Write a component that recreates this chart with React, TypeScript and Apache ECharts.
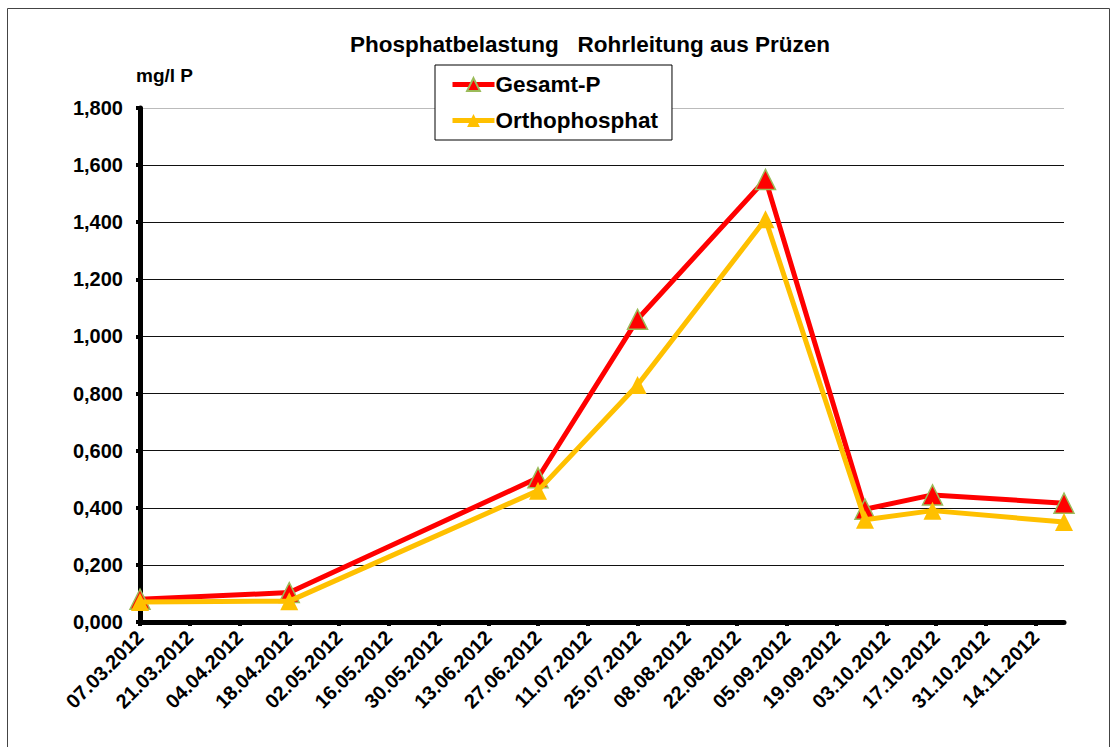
import React, { useEffect, useRef } from "react";
import * as echarts from "echarts";

const sampleDates = ["07.03.2012", "18.04.2012", "27.06.2012", "25.07.2012", "30.08.2012", "27.09.2012", "16.10.2012", "22.11.2012"];
const gesamtP = [0.08, 0.103, 0.505, 1.06, 1.55, 0.395, 0.445, 0.416];
const orthophosphat = [0.07, 0.073, 0.46, 0.83, 1.41, 0.358, 0.39, 0.35];
const seriesNames = ["Gesamt-P", "Orthophosphat"];
const axisStartDate = "07.03.2012";
const axisEndDate = "22.11.2012";
const tickStepDays = 14;
const yTicks = [0, 0.2, 0.4, 0.6, 0.8, 1.0, 1.2, 1.4, 1.6, 1.8];
const titleText = "Phosphatbelastung   Rohrleitung aus Prüzen";
const unitText = "mg/l P";

const parseDate = (s: string) => {
  const [d, m, y] = s.split(".").map(Number);
  return Date.UTC(y, m - 1, d);
};
const DAY = 86400000;
const start = parseDate(axisStartDate);
const toDay = (s: string) => Math.round((parseDate(s) - start) / DAY);
const endDay = toDay(axisEndDate);
const pad = (n: number) => (n < 10 ? "0" + n : "" + n);
const fmtDay = (v: number) => {
  const d = new Date(start + v * DAY);
  return pad(d.getUTCDate()) + "." + pad(d.getUTCMonth() + 1) + "." + d.getUTCFullYear();
};
const xTickValues: number[] = [];
for (let v = 0; v <= endDay; v += tickStepDays) xTickValues.push(v);

const FONT = "'Liberation Sans', Arial, sans-serif";

export default function App() {
  const ref = useRef<HTMLDivElement>(null);
  useEffect(() => {
    document.body.style.margin = "0";
    const chart = echarts.init(ref.current!, null, { renderer: "svg" });
    const days = sampleDates.map(toDay);
    chart.setOption({
      animation: false,
      backgroundColor: "#fff",
      textStyle: { fontFamily: FONT },
      title: {
        text: titleText,
        left: 345,
        top: 28,
        textStyle: { fontFamily: FONT, fontSize: 22.5, fontWeight: "bold", color: "#000" },
      },
      graphic: [
        {
          type: "rect",
          shape: { x: 7.5, y: 8.5, width: 1102, height: 800 },
          style: { fill: "none", stroke: "#444", lineWidth: 1 },
          silent: true,
        },
        {
          type: "text",
          left: 136,
          top: 66,
          style: { text: unitText, font: "bold 19px " + FONT, fill: "#000" },
        },
      ],
      legend: {
        orient: "vertical",
        left: 435,
        top: 65,
        padding: [8, 14, 8, 15],
        itemGap: 13,
        itemWidth: 42,
        itemHeight: 16,
        borderColor: "#000",
        borderWidth: 1,
        backgroundColor: "#fff",
        z: 10,
        lineStyle: { width: 5 },
        textStyle: { fontFamily: FONT, fontSize: 22.5, fontWeight: "bold", color: "#000", padding: [0, 0, 0, -4] },
        data: seriesNames,
      },
      grid: { left: 140, right: 53, top: 108, bottom: 125, containLabel: false },
      xAxis: {
        type: "value",
        min: 0,
        max: endDay,
        interval: tickStepDays,
        axisLine: { show: true, lineStyle: { color: "#000", width: 5 } },
        axisTick: { show: true, length: 4, lineStyle: { color: "#000", width: 4 }, customValues: xTickValues },
        splitLine: { show: false },
        axisLabel: {
          rotate: 45,
          margin: 12,
          customValues: xTickValues,
          hideOverlap: false,
          fontFamily: FONT,
          fontSize: 20,
          fontWeight: "bold",
          color: "#000",
          formatter: (v: number) => (v % tickStepDays === 0 ? fmtDay(v) : ""),
        },
      },
      yAxis: {
        type: "value",
        min: yTicks[0],
        max: yTicks[yTicks.length - 1],
        interval: 0.2,
        axisLine: { show: true, lineStyle: { color: "#000", width: 5 } },
        axisTick: { show: true, length: 4, lineStyle: { color: "#000", width: 4 } },
        splitLine: {
          show: true,
          lineStyle: {
            color: ["#111", "#111", "#111", "#111", "#111", "#111", "#111", "#111", "#111", "#bbb"],
            width: 1,
          },
        },
        axisLabel: {
          margin: 17,
          fontFamily: FONT,
          fontSize: 20,
          fontWeight: "bold",
          color: "#000",
          formatter: (v: number) => v.toFixed(3).replace(".", ","),
        },
      },
      series: [
        {
          name: seriesNames[0],
          type: "line",
          data: days.map((d, i) => [d, gesamtP[i]]),
          symbol: "triangle",
          symbolSize: 20,
          lineStyle: { color: "#FF0000", width: 5 },
          itemStyle: { color: "#FF0000", borderColor: "#9BBB59", borderWidth: 1.5 },
          z: 3,
        },
        {
          name: seriesNames[1],
          type: "line",
          data: days.map((d, i) => [d, orthophosphat[i]]),
          symbol: "triangle",
          symbolSize: 18,
          lineStyle: { color: "#FFC000", width: 5 },
          itemStyle: { color: "#FFC000", borderWidth: 0 },
          z: 4,
        },
      ],
    });
    return () => chart.dispose();
  }, []);
  return <div ref={ref} style={{ width: 1117, height: 747 }} />;
}
